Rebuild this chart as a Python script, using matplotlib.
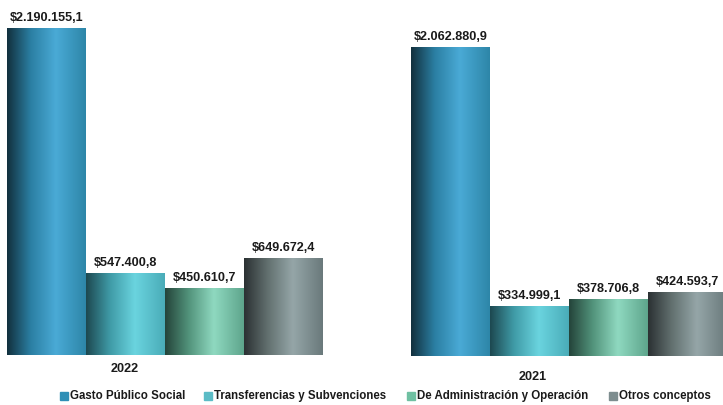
import matplotlib
matplotlib.use("Agg")
import matplotlib.pyplot as plt
import numpy as np
from matplotlib.colors import LinearSegmentedColormap
from matplotlib.patches import Rectangle

plt.rcParams['font.family'] = ['Liberation Sans', 'DejaVu Sans']

years = ["2022", "2021"]
series = ["Gasto Público Social", "Transferencias y Subvenciones",
          "De Administración y Operación", "Otros conceptos"]
values_2022 = [2190155.1, 547400.8, 450610.7, 649672.4]
values_2021 = [2062880.9, 334999.1, 378706.8, 424593.7]

legend_colors = ["#2f8fb6", "#5bbcc6", "#6fc0a2", "#7d8d8f"]
gradients = [
    ["#12303d", "#2b7fa3", "#4aaad6", "#2d86a8"],
    ["#1d4850", "#3f9aa6", "#6ad4df", "#4aacb8"],
    ["#24443a", "#52937b", "#8fd9c0", "#5ea58c"],
    ["#2b3133", "#62706f", "#95a6a8", "#6a797b"],
]

def fmt(v):
    s = f"{v:,.1f}"
    s = s.replace(",", "X").replace(".", ",").replace("X", ".")
    return "$" + s

W, H = 723, 405
fig = plt.figure(figsize=(W / 100, H / 100), dpi=100)

ymax = 2.375e6
grad = np.linspace(0, 1, 256).reshape(1, -1)

def draw_group(rect, vals):
    ax = fig.add_axes(rect)
    ax.set_xlim(0, 4)
    ax.set_ylim(0, ymax)
    ax.axis('off')
    bars = ax.bar(np.arange(4) + 0.5, vals, width=1.0, color='none',
                  edgecolor='white', linewidth=0.6)
    for i, b in enumerate(bars):
        cmap = LinearSegmentedColormap.from_list(
            f"g{i}", list(zip([0, 0.3, 0.62, 1.0], gradients[i])))
        x0 = b.get_x()
        im = ax.imshow(grad, cmap=cmap, aspect='auto',
                       extent=[x0, x0 + b.get_width(), 0, b.get_height()],
                       zorder=1, interpolation='bicubic')
        im.set_clip_path(b)
        ax.text(x0 + b.get_width() / 2, b.get_height() + ymax * 0.011,
                fmt(vals[i]), ha='center', va='bottom', fontsize=9.1,
                fontweight='bold', color='#1a1a1a')
    ax.set_xlim(0, 4)
    ax.set_ylim(0, ymax)
    return ax

draw_group([7 / W, (H - 355) / H, 316 / W, 355 / H], values_2022)
draw_group([411 / W, (H - 356) / H, 316 / W, 356 / H], values_2021)

fig.text(125 / W, 1 - 369 / H, years[0], ha='center', va='center',
         fontsize=9.1, fontweight='bold', color='#1a1a1a')
fig.text(533 / W, 1 - 377 / H, years[1], ha='center', va='center',
         fontsize=9.1, fontweight='bold', color='#1a1a1a')

leg_x = [60, 204, 407, 609]
ly = 396
for x, lab, c in zip(leg_x, series, legend_colors):
    fig.patches.append(Rectangle((x / W, 1 - (ly + 4) / H), 8 / W, 8 / H,
                                 transform=fig.transFigure, color=c))
    fig.text((x + 10) / W, 1 - ly / H, lab, ha='left', va='center',
             fontsize=8.3, fontweight='bold', color='#1a1a1a')

fig.savefig("out.png", dpi=100)
